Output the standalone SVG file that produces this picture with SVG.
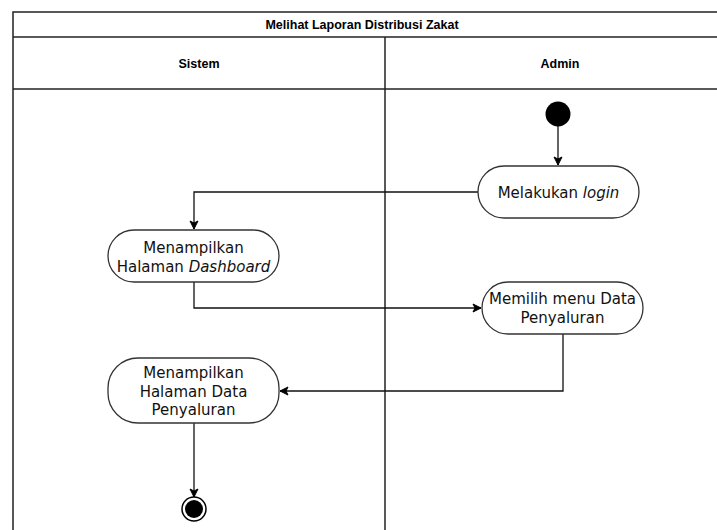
<svg xmlns="http://www.w3.org/2000/svg" width="717" height="530" viewBox="0 0 717 530">
<defs>
<marker id="arr" markerWidth="10" markerHeight="10" refX="9" refY="5" orient="auto" markerUnits="userSpaceOnUse">
<path d="M1,1 L9,5 L1,9 L3,5 Z" fill="#000" stroke="#000" stroke-width="1"/>
</marker>
<style>
.frame{fill:none;stroke:#222;stroke-width:1.5}
.hdr{font-family:"Liberation Sans",Arial,sans-serif;font-weight:bold;font-size:12.5px;fill:#000;text-anchor:middle}
.act{fill:#fff;stroke:#333;stroke-width:1.3}
.lbl{font-family:"DejaVu Sans",Verdana,sans-serif;font-size:15px;fill:#111;text-anchor:middle}
.con{fill:none;stroke:#111;stroke-width:1.3}
</style>
</defs>
<rect width="717" height="530" fill="#fff"/>
<g id="swimlane">
<path class="frame" d="M740,12 H13 V540"/>
<line class="frame" x1="13" y1="37" x2="740" y2="37"/>
<line class="frame" x1="13" y1="89" x2="740" y2="89"/>
<line class="frame" x1="385" y1="37" x2="385" y2="540"/>
<text class="hdr" x="362" y="29">Melihat Laporan Distribusi Zakat</text>
<text class="hdr" x="199" y="68">Sistem</text>
<text class="hdr" x="560" y="68">Admin</text>
</g>
<g id="connectors">
<line class="con" x1="558" y1="126" x2="558" y2="165" marker-end="url(#arr)"/>
<path class="con" d="M478,192 H194 V229" marker-end="url(#arr)"/>
<path class="con" d="M194,282 V308 H481" marker-end="url(#arr)"/>
<path class="con" d="M563,334 V391 H280" marker-end="url(#arr)"/>
<line class="con" x1="194" y1="423" x2="194" y2="497" marker-end="url(#arr)"/>
</g>
<g id="start">
<circle cx="558" cy="114" r="12.5" fill="#000"/>
</g>
<g id="login">
<rect class="act" x="478" y="166" width="161" height="52" rx="26" ry="26"/>
<text class="lbl" x="558.5" y="197.5">Melakukan <tspan font-style="italic">login</tspan></text>
</g>
<g id="dashboard">
<rect class="act" x="108" y="230" width="171" height="52" rx="26" ry="26"/>
<text class="lbl" x="193.5" y="253">Menampilkan</text>
<text class="lbl" x="193.5" y="272">Halaman <tspan font-style="italic">Dashboard</tspan></text>
</g>
<g id="memilih">
<rect class="act" x="482" y="282" width="161" height="52" rx="26" ry="26"/>
<text class="lbl" x="562.5" y="304">Memilih menu Data</text>
<text class="lbl" x="562.5" y="323">Penyaluran</text>
</g>
<g id="datapenyaluran">
<rect class="act" x="108" y="358" width="171" height="65" rx="30" ry="30"/>
<text class="lbl" x="193.5" y="378">Menampilkan</text>
<text class="lbl" x="193.5" y="396.5">Halaman Data</text>
<text class="lbl" x="193.5" y="415">Penyaluran</text>
</g>
<g id="end">
<circle cx="194" cy="509" r="12" fill="#fff" stroke="#000" stroke-width="1.5"/>
<circle cx="194" cy="509" r="9" fill="#000"/>
</g>
</svg>
